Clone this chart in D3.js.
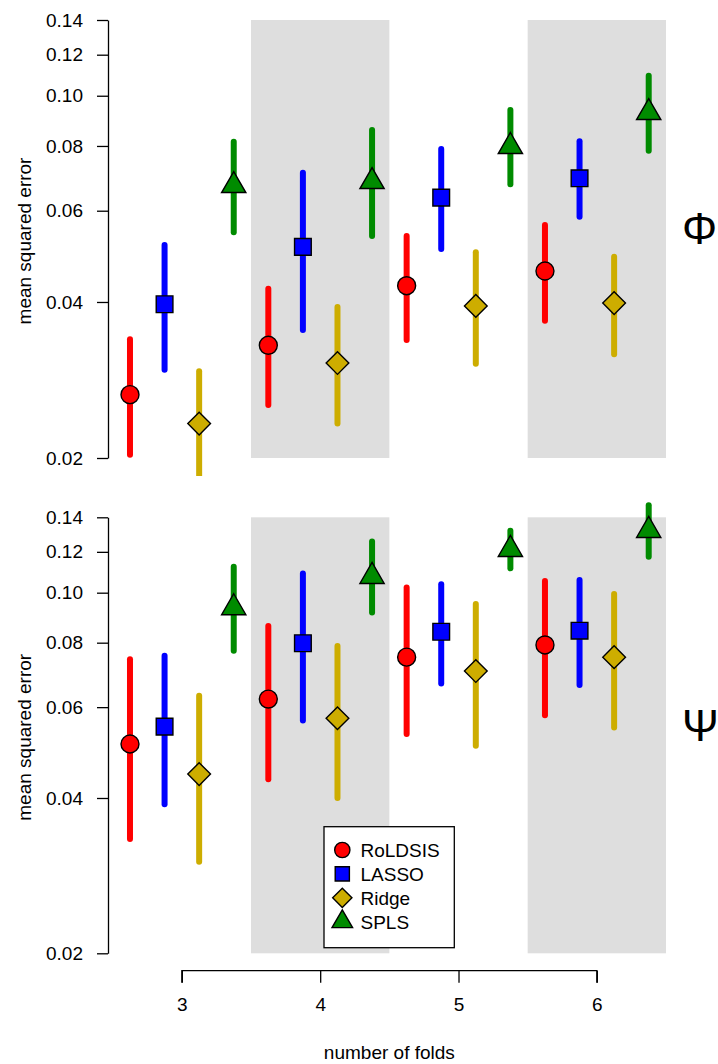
<!DOCTYPE html>
<html>
<head>
<meta charset="utf-8">
<script src="https://cdn.jsdelivr.net/npm/d3@7"></script>
<style>
  body { margin: 0; background: #fff; }
  svg { display: block; font-family: "Liberation Sans", Arial, Helvetica, sans-serif; }
</style>
</head>
<body>
<svg id="chart" width="718" height="1064"></svg>
<script>
// ---------- data ----------
const categories = [3, 4, 5, 6];
const methods = ["RoLDSIS", "LASSO", "Ridge", "SPLS"];
const methodColors = ["#ff0000", "#0000ff", "#cdad00", "#008b00"];
const methodShapes = ["circle", "square", "diamond", "triangle"];
const methodOffsets = [-0.375, -0.125, 0.125, 0.375];
const yTicks = [0.02, 0.04, 0.06, 0.08, 0.10, 0.12, 0.14];
const shadedCategories = [4, 6];
const panelLabels = ["Φ", "Ψ"];

// Phi panel (rows = methods, columns = categories)
const phiMean = [
  [0.0265, 0.0330, 0.0430, 0.0459],
  [0.0396, 0.0511, 0.0636, 0.0693],
  [0.0233, 0.0305, 0.0393, 0.0398],
  [0.0671, 0.0683, 0.0798, 0.0928]
];
const phiLow = [
  [0.0203, 0.0253, 0.0338, 0.0368],
  [0.0296, 0.0353, 0.0506, 0.0584],
  [0.0183, 0.0233, 0.0304, 0.0317],
  [0.0545, 0.0536, 0.0675, 0.0783]
];
const phiHigh = [
  [0.0339, 0.0424, 0.0536, 0.0563],
  [0.0515, 0.0710, 0.0789, 0.0817],
  [0.0294, 0.0391, 0.0499, 0.0489],
  [0.0815, 0.0859, 0.0939, 0.1093]
];

// Psi panel
const psiMean = [
  [0.0509, 0.0622, 0.0750, 0.0792],
  [0.0550, 0.0798, 0.0840, 0.0844],
  [0.0445, 0.0571, 0.0705, 0.0750],
  [0.0935, 0.1075, 0.1213, 0.1320]
];
const psiLow = [
  [0.0333, 0.0435, 0.0532, 0.0579],
  [0.0389, 0.0565, 0.0667, 0.0662],
  [0.0301, 0.0400, 0.0505, 0.0548],
  [0.0772, 0.0915, 0.1115, 0.1174]
];
const psiHigh = [
  [0.0743, 0.0862, 0.1023, 0.1054],
  [0.0755, 0.1090, 0.1038, 0.1058],
  [0.0631, 0.0788, 0.0951, 0.0994],
  [0.1123, 0.1256, 0.1319, 0.1477]
];

// ---------- drawing ----------
const svg = d3.select("#chart");
const FONT = 19;

const x = d3.scaleLinear().domain([2.5, 6.5]).range([112.7, 666]);
const xAxisScale = d3.scaleLinear().domain([3, 6]).range([x(3), x(6)]);

const shapeSize = { circle: 254, square: 279, diamond: 258, triangle: 255 };
function symbolPath(shape, scale) {
  const s = shapeSize[shape] * (scale || 1);
  const type = shape === "circle" ? d3.symbolCircle
    : shape === "triangle" ? d3.symbolTriangle : d3.symbolSquare;
  return d3.symbol().type(type).size(s)();
}

const panels = [
  { mean: phiMean, low: phiLow, high: phiHigh, yRange: [458, 20], clip: [0, 476], label: panelLabels[0], labelY: 244 },
  { mean: psiMean, low: psiLow, high: psiHigh, yRange: [953.3, 517.3], clip: [480, 970], label: panelLabels[1], labelY: 741 }
];

panels.forEach((p, pi) => {
  const y = d3.scaleLog().domain([0.02, 0.14]).range(p.yRange);
  const g = svg.append("g");

  // clip
  const clipId = "clip" + pi;
  svg.append("clipPath").attr("id", clipId).append("rect")
    .attr("x", 0).attr("y", p.clip[0]).attr("width", 718).attr("height", p.clip[1] - p.clip[0]);

  // shaded bands
  g.selectAll("rect.band").data(shadedCategories).join("rect")
    .attr("class", "band")
    .attr("x", d => x(d - 0.5))
    .attr("width", d => x(d + 0.5) - x(d - 0.5))
    .attr("y", y(0.14))
    .attr("height", y(0.02) - y(0.14))
    .attr("fill", "#dedede");

  // y axis
  const ax = g.append("g")
    .attr("transform", "translate(108,0)")
    .call(d3.axisLeft(y).tickValues(yTicks).tickFormat(d3.format(".2f")).tickSize(11).tickSizeOuter(0).tickPadding(14));
  ax.selectAll("path, line").attr("stroke", "#000").attr("stroke-width", 1.3);
  ax.selectAll("text").attr("font-size", FONT).attr("fill", "#000")
    .attr("font-family", "Liberation Sans, Arial, sans-serif");

  // y title
  g.append("text")
    .attr("transform", `translate(31,${(p.yRange[0] + p.yRange[1]) / 2 + 2}) rotate(-90)`)
    .attr("text-anchor", "middle")
    .attr("font-size", FONT)
    .text("mean squared error");

  // panel label
  g.append("text")
    .attr("x", 682).attr("y", p.labelY)
    .attr("font-size", 44)
    .text(p.label);

  const dg = g.append("g").attr("clip-path", `url(#${clipId})`);
  methods.forEach((m, mi) => {
    const rows = categories.map((c, ci) => ({
      cx: c + methodOffsets[mi],
      mean: p.mean[mi][ci], lo: p.low[mi][ci], hi: p.high[mi][ci]
    }));
    dg.selectAll(null).data(rows).join("line")
      .attr("x1", d => x(d.cx)).attr("x2", d => x(d.cx))
      .attr("y1", d => y(d.lo)).attr("y2", d => y(d.hi))
      .attr("stroke", methodColors[mi])
      .attr("stroke-width", 6)
      .attr("stroke-linecap", "round");
    dg.selectAll(null).data(rows).join("path")
      .attr("d", symbolPath(methodShapes[mi]))
      .attr("transform", d => `translate(${x(d.cx)},${y(d.mean)})` + (methodShapes[mi] === "diamond" ? " rotate(45)" : ""))
      .attr("fill", methodColors[mi])
      .attr("stroke", "#000")
      .attr("stroke-width", 1.4);
  });
});

// x axis
const xa = svg.append("g")
  .attr("transform", "translate(0,970.7)")
  .call(d3.axisBottom(xAxisScale).tickValues(categories).tickFormat(d3.format("d")).tickSize(12).tickSizeOuter(0).tickPadding(15));
xa.selectAll("path, line").attr("stroke", "#000").attr("stroke-width", 1.3);
xa.select(".domain").attr("d", `M${x(3)},12V0H${x(6)}V12`);
xa.selectAll("text").attr("font-size", FONT).attr("fill", "#000")
  .attr("font-family", "Liberation Sans, Arial, sans-serif");

svg.append("text")
  .attr("x", x(4.5)).attr("y", 1059)
  .attr("text-anchor", "middle")
  .attr("font-size", FONT)
  .text("number of folds");

// legend
const lg = svg.append("g");
lg.append("rect")
  .attr("x", 324).attr("y", 826.7).attr("width", 130.3).attr("height", 121)
  .attr("fill", "#fff").attr("stroke", "#000").attr("stroke-width", 1.3);
const legendY = d3.scaleLinear().domain([0, 3]).range([850, 921.7]);
methods.forEach((m, mi) => {
  lg.append("path")
    .attr("d", symbolPath(methodShapes[mi], 0.72))
    .attr("transform", `translate(342.3,${legendY(mi)})` + (methodShapes[mi] === "diamond" ? " rotate(45)" : ""))
    .attr("fill", methodColors[mi]).attr("stroke", "#000").attr("stroke-width", 1.4);
  lg.append("text")
    .attr("x", 360.5).attr("y", legendY(mi))
    .attr("dy", "0.36em")
    .attr("font-size", FONT)
    .text(m);
});
</script>
</body>
</html>
